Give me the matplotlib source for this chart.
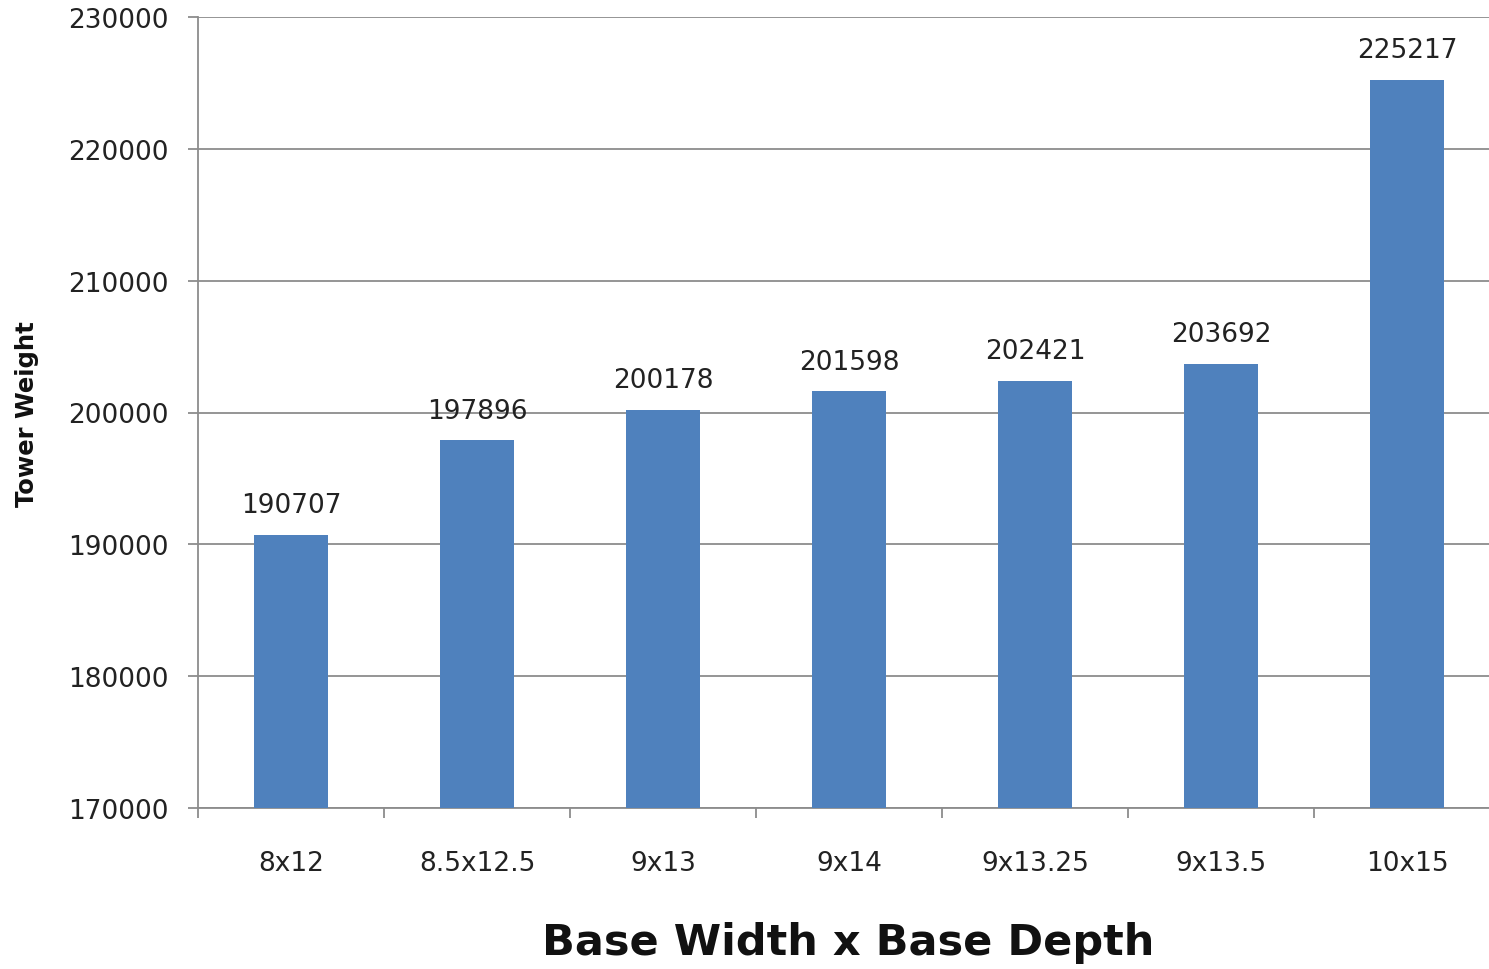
import matplotlib
matplotlib.use("Agg")
import matplotlib.pyplot as plt
import numpy as np

categories = ["8x12", "8.5x12.5", "9x13", "9x14", "9x13.25", "9x13.5", "10x15"]
weights = [190707, 197896, 200178, 201598, 202421, 203692, 225217]
yticks = [170000, 180000, 190000, 200000, 210000, 220000, 230000]

bar_color = "#4F81BD"
grid_color = "#8C8C8C"

plt.rcParams['font.family'] = ['DejaVu Sans']

fig = plt.figure(figsize=(14.89, 9.70), dpi=100)
ax = fig.add_axes([198/1489, (970-809)/970, 1302/1489, (809-18)/970])

x = np.arange(len(categories))
ax.bar(x, weights, width=0.4, color=bar_color, zorder=3)

ax.set_ylim(170000, 230000)
ax.set_xlim(-0.5, len(categories) - 0.5)
ax.set_yticks(yticks)
ax.set_yticklabels([str(t) for t in yticks], fontsize=19, color="#222222")
ax.yaxis.grid(True, color=grid_color, linewidth=1.3, zorder=0)

ax.set_xticks(np.arange(len(categories) + 1) - 0.5)
ax.set_xticklabels([])
ax.set_xticks(x, minor=True)
ax.set_xticklabels(categories, minor=True, fontsize=19, color="#222222")
ax.tick_params(axis='x', which='major', length=7, width=1.3, color=grid_color, direction='out')
ax.tick_params(axis='x', which='minor', length=0, pad=30)
ax.tick_params(axis='y', length=7, width=1.3, color=grid_color, direction='out', pad=14)

for s in ['top', 'right']:
    ax.spines[s].set_visible(False)
for s in ['left', 'bottom']:
    ax.spines[s].set_color(grid_color)
    ax.spines[s].set_linewidth(1.3)

for xi, w in zip(x, weights):
    ax.annotate(str(w), (xi, w), xytext=(0, 12), textcoords='offset points',
                ha='center', va='bottom', fontsize=19, color="#222222")

fig.text(27/1489, 1 - 414/970, "Tower Weight", rotation=90, ha='center', va='center',
         fontsize=17.5, fontweight='bold', color="#111111")
fig.text(848/1489, 1 - 943/970, "Base Width x Base Depth", ha='center', va='center',
         fontsize=31, fontweight='bold', color="#111111")

fig.savefig("out.png", dpi=100)
